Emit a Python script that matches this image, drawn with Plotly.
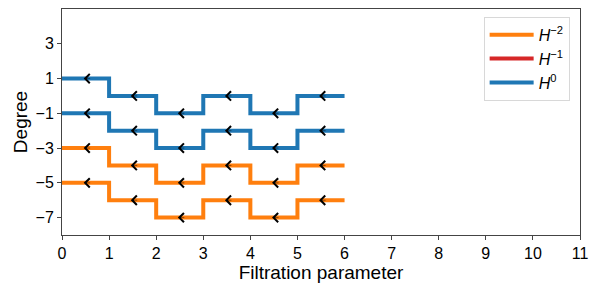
import plotly.graph_objects as go

steps = [0, 1, 2, 3, 4, 5, 6]
h0_a = [1, 0, -1, 0, -1, 0]
h0_b = [-1, -2, -3, -2, -3, -2]
hm2_a = [-3, -4, -5, -4, -5, -4]
hm2_b = [-5, -6, -7, -6, -7, -6]
y_ticks = [3, 1, -1, -3, -5, -7]
x_ticks = list(range(0, 12))
names = ["<i>H</i><sup>−2</sup>", "<i>H</i><sup>−1</sup>", "<i>H</i><sup>0</sup>"]

ORANGE = "#ff7f0e"
RED = "#d62728"
BLUE = "#1f77b4"
FONT = "Liberation Sans, Arial, sans-serif"

fig = go.Figure()

def add_step(vals, color, name, show):
    fig.add_trace(go.Scatter(
        x=steps, y=vals + [vals[-1]], mode="lines", line=dict(color=color, width=4, shape="hv"),
        name=name, showlegend=show, legendgroup=name))

add_step(hm2_a, ORANGE, names[0], True)
add_step(hm2_b, ORANGE, names[0], False)
fig.add_trace(go.Scatter(x=[None], y=[None], mode="lines", line=dict(color=RED, width=4),
                         name=names[1]))
add_step(h0_a, BLUE, names[2], True)
add_step(h0_b, BLUE, names[2], False)

annots = []
for vals in [h0_a, h0_b, hm2_a, hm2_b]:
    for i, v in enumerate(vals):
        mid = (steps[i] + steps[i + 1]) / 2
        annots.append(dict(x=mid - 0.04, y=v, ax=8, ay=0, xref="x", yref="y", text="",
                           showarrow=True, arrowhead=4, arrowsize=4, arrowwidth=0.45,
                           arrowcolor="black", standoff=0))

# page body has an 8px margin, so the figure is 8px smaller and margins shifted
fig.update_layout(
    width=605, height=276,
    margin=dict(l=54, r=33, t=0.5, b=48.5),
    plot_bgcolor="white", paper_bgcolor="white",
    font=dict(family=FONT, size=16, color="black"),
    showlegend=True,
    legend=dict(x=0.98, y=0.965, xanchor="right", yanchor="top",
                bordercolor="#d8d8d8", borderwidth=1, bgcolor="rgba(255,255,255,0.8)",
                tracegroupgap=0, itemwidth=44, font=dict(size=16)),
    annotations=annots,
    xaxis=dict(range=[0, 11], tickvals=x_ticks, showgrid=False, zeroline=False,
               showline=True, linecolor="#444", linewidth=1, mirror=True,
               ticks="outside", ticklen=4, tickcolor="#444", automargin=False,
               title=dict(text="Filtration parameter", standoff=0)),
    yaxis=dict(range=[-8, 5], tickvals=y_ticks, ticktext=[str(t).replace("-", "−") for t in y_ticks],
               showgrid=False, zeroline=False, automargin=False,
               showline=True, linecolor="#444", linewidth=1, mirror=True,
               ticks="outside", ticklen=4, tickcolor="#444",
               title=dict(text="Degree", standoff=2)),
)

fig.write_html("out.html")
